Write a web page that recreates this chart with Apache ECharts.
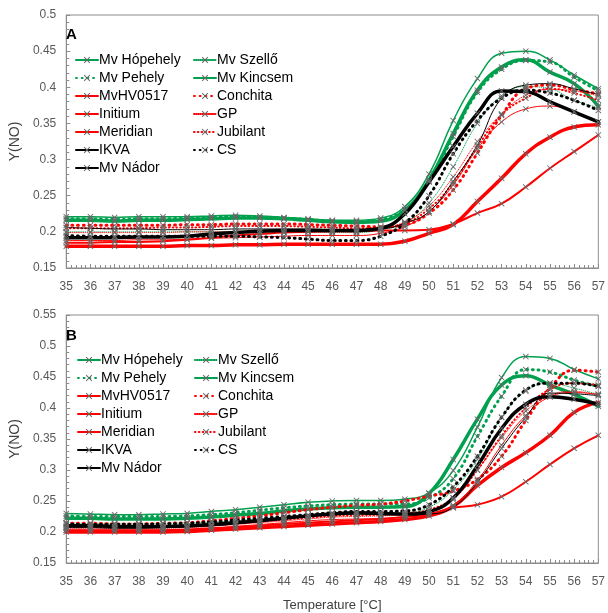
<!DOCTYPE html>
<html><head><meta charset="utf-8">
<script src="https://cdn.jsdelivr.net/npm/echarts@6/dist/echarts.min.js"></script>
<style>html,body{margin:0;padding:0;background:#fff}#c{width:608px;height:613px}</style>
</head><body><div id="c"></div>
<script>
const temps = [35,36,37,38,39,40,41,42,43,44,45,46,47,48,49,50,51,52,53,54,55,56,57];
const yTicksA = [0.15,0.2,0.25,0.3,0.35,0.4,0.45,0.5];
const yTicksB = [0.15,0.2,0.25,0.3,0.35,0.4,0.45,0.5,0.55];
const seriesNames = ['Mv Hópehely','Mv Szellő','Mv Pehely','Mv Kincsem','MvHV0517','Conchita','Initium','GP','Meridian','Jubilant','IKVA','CS','Mv Nádor'];
const legendCol1 = ['Mv Hópehely','Mv Pehely','MvHV0517','Initium','Meridian','IKVA','Mv Nádor'];
const legendCol2 = ['Mv Szellő','Mv Kincsem','Conchita','GP','Jubilant','CS'];

// Panel A values
const A_Hopehely = [0.216,0.216,0.215,0.216,0.216,0.217,0.218,0.219,0.219,0.218,0.216,0.214,0.213,0.215,0.230,0.272,0.336,0.396,0.428,0.438,0.421,0.405,0.374];
const A_Szello   = [0.200,0.200,0.200,0.200,0.200,0.200,0.200,0.200,0.200,0.200,0.200,0.199,0.199,0.203,0.212,0.240,0.290,0.350,0.388,0.401,0.398,0.382,0.372];
const A_Pehely   = [0.218,0.218,0.217,0.218,0.218,0.219,0.220,0.221,0.220,0.219,0.217,0.215,0.214,0.217,0.231,0.270,0.332,0.393,0.425,0.437,0.435,0.414,0.395];
const A_Kincsem  = [0.221,0.221,0.220,0.221,0.221,0.221,0.222,0.223,0.222,0.220,0.218,0.216,0.216,0.219,0.235,0.280,0.354,0.412,0.447,0.450,0.438,0.417,0.398];
const A_HV0517   = [0.188,0.188,0.188,0.189,0.189,0.190,0.191,0.192,0.193,0.194,0.195,0.195,0.195,0.198,0.207,0.228,0.265,0.315,0.352,0.370,0.374,0.366,0.352];
const A_Conchita = [0.209,0.209,0.209,0.209,0.209,0.210,0.210,0.211,0.211,0.211,0.210,0.209,0.208,0.207,0.210,0.226,0.258,0.309,0.361,0.398,0.403,0.397,0.391];
const A_Initium  = [0.180,0.180,0.180,0.180,0.180,0.181,0.181,0.182,0.182,0.183,0.183,0.183,0.183,0.183,0.187,0.198,0.210,0.242,0.274,0.308,0.331,0.345,0.348];
const A_GP       = [0.199,0.199,0.199,0.199,0.199,0.200,0.200,0.200,0.200,0.200,0.200,0.200,0.200,0.204,0.214,0.236,0.276,0.325,0.363,0.389,0.397,0.395,0.388];
const A_Meridian = [0.185,0.185,0.186,0.186,0.187,0.189,0.192,0.195,0.197,0.199,0.200,0.201,0.201,0.202,0.202,0.203,0.211,0.226,0.239,0.262,0.288,0.311,0.334];
const A_Jubilant = [0.205,0.205,0.205,0.205,0.206,0.206,0.207,0.208,0.208,0.208,0.207,0.206,0.205,0.206,0.212,0.232,0.268,0.318,0.362,0.385,0.398,0.392,0.382];
const A_IKVA     = [0.206,0.205,0.204,0.204,0.203,0.203,0.203,0.204,0.204,0.204,0.204,0.203,0.203,0.204,0.212,0.228,0.270,0.320,0.385,0.403,0.405,0.398,0.390];
const A_CS       = [0.195,0.194,0.194,0.194,0.194,0.194,0.194,0.194,0.193,0.192,0.190,0.188,0.188,0.194,0.212,0.250,0.308,0.354,0.385,0.396,0.392,0.382,0.368];
const A_Nador    = [0.192,0.192,0.192,0.193,0.193,0.194,0.197,0.199,0.201,0.202,0.202,0.202,0.202,0.205,0.225,0.269,0.318,0.364,0.395,0.394,0.380,0.366,0.352];

// Panel B values
const B_Hopehely = [0.222,0.222,0.221,0.221,0.221,0.222,0.224,0.227,0.230,0.234,0.237,0.239,0.240,0.240,0.241,0.262,0.317,0.382,0.437,0.452,0.437,0.422,0.403];
const B_Szello   = [0.215,0.214,0.214,0.214,0.214,0.215,0.216,0.218,0.221,0.224,0.227,0.229,0.230,0.230,0.231,0.240,0.268,0.317,0.385,0.427,0.440,0.432,0.422];
const B_Pehely   = [0.226,0.225,0.225,0.225,0.225,0.226,0.228,0.231,0.235,0.239,0.242,0.244,0.245,0.245,0.245,0.255,0.286,0.354,0.419,0.462,0.458,0.445,0.435];
const B_Kincsem  = [0.230,0.229,0.228,0.228,0.229,0.230,0.233,0.236,0.240,0.244,0.248,0.250,0.251,0.251,0.253,0.263,0.299,0.369,0.449,0.483,0.480,0.462,0.447];
const B_HV0517   = [0.203,0.203,0.203,0.203,0.203,0.204,0.206,0.209,0.212,0.215,0.218,0.220,0.221,0.222,0.225,0.229,0.243,0.283,0.340,0.388,0.418,0.425,0.422];
const B_Conchita = [0.214,0.214,0.213,0.213,0.214,0.215,0.218,0.222,0.226,0.231,0.236,0.240,0.243,0.245,0.250,0.258,0.266,0.285,0.322,0.380,0.432,0.461,0.458];
const B_Initium  = [0.200,0.200,0.200,0.200,0.200,0.201,0.203,0.205,0.207,0.209,0.211,0.213,0.215,0.217,0.220,0.226,0.241,0.275,0.304,0.328,0.356,0.393,0.409];
const B_GP       = [0.206,0.206,0.206,0.206,0.206,0.207,0.209,0.212,0.215,0.218,0.221,0.224,0.225,0.226,0.228,0.233,0.252,0.300,0.352,0.395,0.420,0.427,0.420];
const B_Meridian = [0.203,0.203,0.203,0.203,0.203,0.204,0.206,0.208,0.210,0.213,0.215,0.217,0.219,0.221,0.224,0.229,0.239,0.244,0.257,0.281,0.309,0.335,0.356];
const B_Jubilant = [0.208,0.208,0.208,0.208,0.208,0.209,0.211,0.214,0.217,0.220,0.223,0.226,0.227,0.228,0.230,0.236,0.255,0.300,0.355,0.400,0.430,0.440,0.437];
const B_IKVA     = [0.207,0.207,0.206,0.206,0.207,0.208,0.210,0.213,0.217,0.221,0.225,0.228,0.229,0.228,0.228,0.229,0.240,0.280,0.335,0.385,0.424,0.423,0.420];
const B_CS       = [0.213,0.212,0.212,0.212,0.213,0.214,0.216,0.219,0.222,0.225,0.228,0.231,0.233,0.233,0.234,0.244,0.273,0.322,0.385,0.429,0.440,0.440,0.435];
const B_Nador    = [0.210,0.210,0.209,0.209,0.209,0.210,0.212,0.215,0.218,0.222,0.226,0.229,0.231,0.230,0.229,0.233,0.255,0.307,0.367,0.406,0.418,0.414,0.406];

const dataA = [A_Hopehely,A_Szello,A_Pehely,A_Kincsem,A_HV0517,A_Conchita,A_Initium,A_GP,A_Meridian,A_Jubilant,A_IKVA,A_CS,A_Nador];
const dataB = [B_Hopehely,B_Szello,B_Pehely,B_Kincsem,B_HV0517,B_Conchita,B_Initium,B_GP,B_Meridian,B_Jubilant,B_IKVA,B_CS,B_Nador];

const GREEN = '#00a04e', RED = '#ff0000', BLACK = '#000000';
const styles = {
  'Mv Hópehely': {c: GREEN, w: 3.5, t: 'solid'},
  'Mv Szellő':   {c: GREEN, w: 1,   t: 'dotted'},
  'Mv Pehely':   {c: GREEN, w: 3,   t: 'dotted'},
  'Mv Kincsem':  {c: GREEN, w: 1.5, t: 'solid'},
  'MvHV0517':    {c: RED,   w: 1,   t: 'solid'},
  'Conchita':    {c: RED,   w: 3,   t: 'dotted'},
  'Initium':     {c: RED,   w: 3.5, t: 'solid'},
  'GP':          {c: RED,   w: 1,   t: 'dotted'},
  'Meridian':    {c: RED,   w: 2,   t: 'solid'},
  'Jubilant':    {c: RED,   w: 2,   t: 'dotted'},
  'IKVA':        {c: BLACK, w: 1,   t: 'solid'},
  'CS':          {c: BLACK, w: 3,   t: 'dotted'},
  'Mv Nádor':    {c: BLACK, w: 3.5, t: 'solid'}
};
const XSYM = 'path://M1,0L5,4L9,0L10,1L6,5L10,9L9,10L5,6L1,10L0,9L4,5L0,1Z';

function mkSeries(name, vals, gi) {
  const s = styles[name];
  const dash = s.t === 'dotted' ? [Math.max(0.5, s.w*0.3), s.w*1.6] : 'solid';
  return {
    name, type: 'line', xAxisIndex: gi, yAxisIndex: gi,
    data: temps.map((t,i)=>[t, vals[i]]),
    smooth: 0.45, symbol: XSYM, symbolSize: 6, showSymbol: true,
    itemStyle: {color: '#666'},
    lineStyle: {color: s.c, width: s.w, type: dash, cap: 'round'},
    emphasis: {disabled: true}, z: 2
  };
}

const series = [];
seriesNames.forEach((n,i)=>series.push(mkSeries(n, dataA[i], 0)));
seriesNames.forEach((n,i)=>series.push(mkSeries(n, dataB[i], 1)));

const axisGray = '#8c8c8c';
const FONT = 'Liberation Sans, Arial, sans-serif';
const labelStyle = {color: '#595959', fontSize: 12, fontFamily: FONT};
function xAxis(gi, withName) {
  return {
    type: 'value', gridIndex: gi, min: 35, max: 57, interval: 1,
    axisLine: {show: true, lineStyle: {color: axisGray}},
    axisTick: {show: true, inside: true, length: 4, lineStyle: {color: axisGray}},
    minorTick: {show: true, splitNumber: 5, length: 3, lineStyle: {color: axisGray}},
    splitLine: {show: false},
    axisLabel: Object.assign({margin: 13}, labelStyle),
    name: withName ? 'Temperature [°C]' : '',
    nameLocation: 'middle', nameGap: 36,
    nameTextStyle: {color: '#404040', fontSize: 13, fontFamily: FONT}
  };
}
function yAxis(gi, ticks) {
  return {
    type: 'value', gridIndex: gi, min: ticks[0], max: ticks[ticks.length-1], interval: 0.05,
    axisLine: {show: true, lineStyle: {color: axisGray}},
    axisTick: {show: true, inside: true, length: 4, lineStyle: {color: axisGray}},
    minorTick: {show: true, splitNumber: 5, length: 3, lineStyle: {color: axisGray}},
    splitLine: {show: false},
    axisLabel: Object.assign({margin: 10, formatter: v => String(+v.toFixed(2))}, labelStyle),
    name: 'Y(NO)', nameLocation: 'middle', nameGap: 32,
    nameTextStyle: {color: '#404040', fontSize: 14, fontFamily: FONT}
  };
}
function legend(names, left, top) {
  return {
    data: names, orient: 'vertical', left, top,
    itemWidth: 22, itemHeight: 8, itemGap: 4, selectedMode: false,
    textStyle: {color: '#000', fontSize: 14, lineHeight: 14, fontFamily: FONT, padding: [0,0,0,-4]}
  };
}

const chart = echarts.init(document.getElementById('c'), null, {renderer: 'canvas'});
chart.setOption({
  animation: false,
  backgroundColor: '#fff',
  title: [
    {text: 'A', left: 61, top: 22, textStyle: {fontSize: 15, fontWeight: 'bold', color: '#000', fontFamily: FONT}},
    {text: 'B', left: 61, top: 323, textStyle: {fontSize: 15, fontWeight: 'bold', color: '#000', fontFamily: FONT}}
  ],
  grid: [
    {left: 56, top: 15, right: 7, height: 253, show: true, borderColor: axisGray, borderWidth: 1, backgroundColor: 'transparent'},
    {left: 57, top: 315, right: 7, height: 255, show: true, borderColor: axisGray, borderWidth: 1, backgroundColor: 'transparent'}
  ],
  xAxis: [xAxis(0, false), xAxis(1, true)],
  yAxis: [yAxis(0, yTicksA), yAxis(1, yTicksB)],
  legend: [
    legend(legendCol1, 70, 48), legend(legendCol2, 188, 48),
    legend(legendCol1, 72, 348), legend(legendCol2, 189, 348)
  ],
  series
});
</script></body></html>
